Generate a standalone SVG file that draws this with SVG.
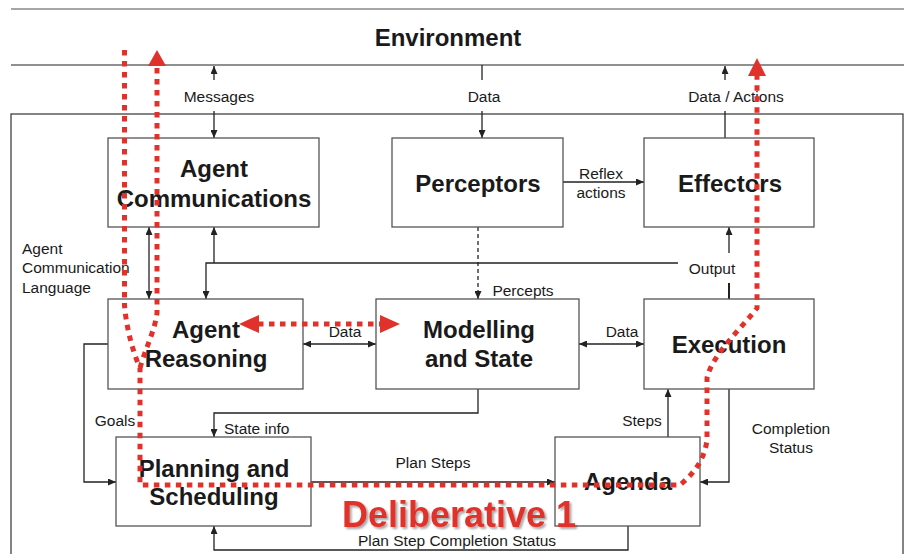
<svg xmlns="http://www.w3.org/2000/svg" width="904" height="554" viewBox="0 0 904 554">
<defs>
<style>
.bg{fill:#fff}
.box{fill:#fff;stroke:#555;stroke-width:1.3}
.ln{fill:none;stroke:#222;stroke-width:1.3}
.dash{stroke-dasharray:4 3}
.t{font-family:"Liberation Sans",Arial,sans-serif;fill:#1a1a1a}
.lbl{font-size:15.5px;text-anchor:middle}
.big{font-size:24px;font-weight:bold;text-anchor:middle}
.red{fill:none;stroke:#e0322a;stroke-width:5;stroke-dasharray:5.5 5.5}
.redfill{fill:#e0322a}
</style>
<marker id="ah" viewBox="0 0 8 7" refX="8" refY="3.5" markerWidth="8" markerHeight="7" markerUnits="userSpaceOnUse" orient="auto-start-reverse">
<path d="M0,0 L8,3.5 L0,7 z" fill="#222"/>
</marker>
<filter id="sh" x="-10%" y="-20%" width="130%" height="150%">
<feDropShadow dx="2" dy="2" stdDeviation="1.2" flood-color="#000" flood-opacity="0.35"/>
</filter>
</defs>
<rect class="bg" x="0" y="0" width="904" height="554"/>
<line x1="11" y1="9" x2="904" y2="9" stroke="#888" stroke-width="1.5"/>
<text class="t big" x="448" y="46">Environment</text>
<line x1="11" y1="65" x2="904" y2="65" stroke="#222" stroke-width="1.2"/>
<rect x="11" y="114" width="892" height="470" fill="none" stroke="#333" stroke-width="1.2"/>

<g id="connectors">
<line class="ln" x1="214" y1="80" x2="214" y2="66" marker-end="url(#ah)"/>
<line class="ln" x1="214" y1="111" x2="214" y2="138" marker-end="url(#ah)"/>
<line class="ln" x1="482" y1="65" x2="482" y2="80"/>
<line class="ln" x1="482" y1="111" x2="482" y2="138" marker-end="url(#ah)"/>
<line class="ln" x1="725" y1="80" x2="725" y2="66" marker-end="url(#ah)"/>
<line class="ln" x1="725" y1="111" x2="725" y2="138"/>
<line class="ln" x1="563" y1="182" x2="644" y2="182" marker-end="url(#ah)"/>
<line class="ln dash" x1="478" y1="227" x2="478" y2="299" marker-end="url(#ah)"/>
<line class="ln" x1="149" y1="227" x2="149" y2="299" marker-start="url(#ah)" marker-end="url(#ah)"/>
<polyline class="ln" points="214,263 214,227" marker-end="url(#ah)"/>
<polyline class="ln" points="678,263 206,263 206,299" marker-end="url(#ah)"/>
<line class="ln" x1="729" y1="253" x2="729" y2="227" marker-end="url(#ah)"/>
<line x1="729" y1="283" x2="729" y2="299" stroke="#222" stroke-width="2"/>
<line class="ln" x1="303" y1="344" x2="376" y2="344" marker-start="url(#ah)" marker-end="url(#ah)"/>
<line class="ln" x1="579" y1="344" x2="644" y2="344" marker-start="url(#ah)" marker-end="url(#ah)"/>
<polyline class="ln" points="108,344 84,344 84,482 116,482" marker-end="url(#ah)"/>
<polyline class="ln" points="478,389 478,413 214,413 214,437" marker-end="url(#ah)"/>
<line class="ln" x1="311" y1="482" x2="555" y2="482" marker-end="url(#ah)"/>
<line class="ln" x1="668" y1="437" x2="668" y2="389" marker-end="url(#ah)"/>
<polyline class="ln" points="729,389 729,482 700,482" marker-end="url(#ah)"/>
<polyline class="ln" points="628,526 628,550 214,550 214,526" marker-end="url(#ah)"/>
</g>

<g id="labels">
<text class="t lbl" x="219" y="102">Messages</text>
<text class="t lbl" x="484" y="102">Data</text>
<text class="t lbl" x="736" y="102">Data / Actions</text>
<text class="t lbl" x="601" y="179">Reflex</text>
<text class="t lbl" x="601" y="198">actions</text>
<text class="t lbl" x="523" y="296">Percepts</text>
<text class="t" font-size="15.5" x="22" y="254">Agent</text>
<text class="t" font-size="15.5" x="22" y="273">Communication</text>
<text class="t" font-size="15.5" x="22" y="293">Language</text>
<text class="t lbl" x="712" y="274">Output</text>
<text class="t lbl" x="345" y="337">Data</text>
<text class="t lbl" x="622" y="337">Data</text>
<text class="t lbl" x="115" y="426">Goals</text>
<text class="t" font-size="15.5" x="224" y="434">State info</text>
<text class="t lbl" x="433" y="468">Plan Steps</text>
<text class="t lbl" x="642" y="426">Steps</text>
<text class="t lbl" x="791" y="434">Completion</text>
<text class="t lbl" x="791" y="453">Status</text>
<text class="t lbl" x="457" y="546">Plan Step Completion Status</text>
</g>

<g id="agent-communications">
<rect class="box" x="108" y="138" width="211" height="89"/>
<text class="t big" x="214" y="177">Agent</text>
<text class="t big" x="214" y="207">Communications</text>
</g>
<g id="perceptors">
<rect class="box" x="392" y="138" width="171" height="89"/>
<text class="t big" x="478" y="192">Perceptors</text>
</g>
<g id="effectors">
<rect class="box" x="644" y="138" width="170" height="89"/>
<text class="t big" x="730" y="192">Effectors</text>
</g>
<g id="agent-reasoning">
<rect class="box" x="108" y="299" width="195" height="90"/>
<text class="t big" x="206" y="338">Agent</text>
<text class="t big" x="206" y="367">Reasoning</text>
</g>
<g id="modelling-and-state">
<rect class="box" x="376" y="299" width="203" height="90"/>
<text class="t big" x="479" y="338">Modelling</text>
<text class="t big" x="479" y="367">and State</text>
</g>
<g id="execution">
<rect class="box" x="644" y="299" width="170" height="90"/>
<text class="t big" x="729" y="353">Execution</text>
</g>
<g id="planning-and-scheduling">
<rect class="box" x="116" y="437" width="195" height="89"/>
<text class="t big" x="214" y="477">Planning and</text>
<text class="t big" x="214" y="505">Scheduling</text>
</g>
<g id="agenda">
<rect class="box" x="555" y="437" width="145" height="89"/>
<text class="t big" x="628" y="490">Agenda</text>
</g>

<g id="deliberative-path">
<path class="red" d="M124.5,50 L124.5,305 C126,325 132,350 140,368 L140,485 L680,485 C692,475 704,462 707,440 L707,378 C712,355 740,330 757,308 L757,74"/>
<path class="red" d="M157,68 L157,313 C155,330 145,350 140,368"/>
<polygon class="redfill" points="157,50 148,66 166,66"/>
<polygon class="redfill" points="757,58 748,76 766,76"/>
<line class="red" x1="258" y1="324" x2="382" y2="324"/>
<polygon class="redfill" points="239,324 259,315 259,333"/>
<polygon class="redfill" points="400,324 380,315 380,333"/>
<text class="t" x="459" y="527" font-size="36" font-weight="bold" text-anchor="middle" fill="#e0322a" style="fill:#e0322a" filter="url(#sh)">Deliberative 1</text>
</g>
</svg>
